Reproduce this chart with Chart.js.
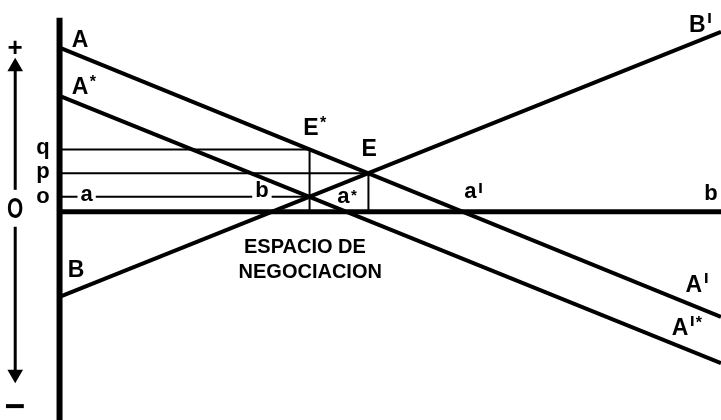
<!DOCTYPE html>
<html>
<head>
<meta charset="utf-8">
<script src="https://cdn.jsdelivr.net/npm/chart.js@4.4.1/dist/chart.umd.min.js"></script>
<style>
html,body{margin:0;padding:0;background:#fff;}
#wrap{width:721px;height:420px;position:relative;}
</style>
</head>
<body>
<div id="wrap"><canvas id="c" width="721" height="420"></canvas></div>
<script>
// ---- data (abstract units: origin where the two axes meet) ----
const lineX = [0, 100];               // horizontal extent of the curves
const curveA = [24.8, -15.9];         // A -> A'
const curveAStar = [17.5, -22.9];     // A* -> A'*
const curveB = [-12.9, 27.2];         // B -> B'
const levels = { q: 9.4, p: 5.8, o: 2.24 };
const pointX = { eStar: 37.8, e: 46.7 };
const axisTop = 29.3, axisBottom = -31.5;
const arrowX = -6.7;
const upArrow = [3.3, 21.4], upTip = 21.9;
const downArrow = [-2.3, -24.3], downTip = -24.6;
const minusX = [-8.1, -5.4], minusY = -29.4;

const labels = [
  {t:'+', x:-6.7, y:23.6, size:26},
  {t:'O', x:-6.7, y:-1.0, size:29, sx:0.72},
  {t:'A', x:3.1, y:24.9},
  {t:'A', sup:['*'], x:3.1, y:17.8},
  {t:'B', x:2.5, y:-9.9},
  {t:'q', x:-2.5, y:8.7, size:22},
  {t:'p', x:-2.5, y:5.1, size:22},
  {t:'o', x:-2.5, y:1.3, size:22},
  {t:'a', x:4.1, y:1.6, bg:true, size:22},
  {t:'b', x:30.6, y:2.2, bg:true, size:22},
  {t:'a', sup:['*'], x:42.9, y:1.3, size:22},
  {t:'E', sup:['*'], x:38.0, y:11.6},
  {t:'E', x:46.8, y:8.4},
  {t:'a', sup:['ı'], x:62.1, y:2.1, size:22, low:true},
  {t:'b', x:98.5, y:1.8, size:22},
  {t:'B', sup:['ı'], x:96.4, y:27.2},
  {t:'A', sup:['ı'], x:95.9, y:-12.2},
  {t:'A', sup:['ı','*'], x:93.8, y:-18.6},
  {t:'ESPACIO DE', x:37.1, y:-6.3, size:20},
  {t:'NEGOCIACION', x:37.9, y:-10.0, size:20}
];

function seg(xs, ys){ return xs.map((x,i)=>({x:x, y:ys[i]})); }

const black = '#000';
function ds(data, width, extra){
  return Object.assign({data:data, showLine:true, borderColor:black, backgroundColor:black,
    borderWidth:width, pointRadius:0, fill:false, tension:0, borderCapStyle:'butt'}, extra||{});
}

const datasets = [
  ds(seg([0,0],[axisTop, axisBottom]), 6),
  ds(seg([lineX[0], lineX[1]],[0,0]), 5),
  ds(seg(lineX, curveA), 4),
  ds(seg(lineX, curveAStar), 4),
  ds(seg(lineX, curveB), 4),
  ds(seg([0, pointX.eStar, pointX.eStar],[levels.q, levels.q, 0]), 2),
  ds(seg([0, pointX.e, pointX.e],[levels.p, levels.p, 0]), 2),
  ds(seg([0, pointX.eStar],[levels.o, levels.o]), 2),
  ds(seg([arrowX, arrowX], upArrow), 3),
  ds(seg([arrowX, arrowX], downArrow), 3),
  ds([{x:arrowX, y:upTip}], 0, {showLine:false, pointRadius:9, pointStyle:'triangle', rotation:0}),
  ds([{x:arrowX, y:downTip}], 0, {showLine:false, pointRadius:9, pointStyle:'triangle', rotation:180}),
  ds(seg(minusX, [minusY, minusY]), 4)
];

const FONT = '"Liberation Sans", Arial, sans-serif';
const labelPlugin = {
  id:'labels',
  afterDatasetsDraw(chart){
    const ctx = chart.ctx, xs = chart.scales.x, ys = chart.scales.y;
    ctx.save();
    labels.forEach(l=>{
      const size = l.size || 23;
      ctx.font = 'bold ' + size + 'px ' + FONT;
      const px = xs.getPixelForValue(l.x), py = ys.getPixelForValue(l.y);
      const w = ctx.measureText(l.t).width * (l.sx||1);
      if (l.bg){
        ctx.fillStyle = '#fff';
        ctx.fillRect(px - w/2 - 3, py - size*0.6, w + 6, size*0.7);
      }
      ctx.fillStyle = black;
      ctx.textBaseline = 'alphabetic';
      ctx.textAlign = 'center';
      ctx.save();
      ctx.translate(px, py);
      ctx.scale(l.sx||1, 1);
      ctx.fillText(l.t, 0, 0);
      ctx.restore();
      if (l.sup){
        let cx = px + w/2 + 1.5;
        const top = l.low || (l.t === l.t.toLowerCase()) ? 0.55*size : 0.72*size;
        ctx.textAlign = 'left';
        l.sup.forEach(s=>{
          if (s === 'ı'){
            const ss = Math.round(size*0.8);
            ctx.font = 'bold ' + ss + 'px ' + FONT;
            ctx.fillText(s, cx, py - top - 2 + 0.53*ss);
            cx += ctx.measureText(s).width + 1;
          } else {
            const ss = Math.round(size*0.7);
            ctx.font = 'bold ' + ss + 'px ' + FONT;
            ctx.fillText(s, cx, py - top + 0.62*ss);
            cx += ctx.measureText(s).width;
          }
        });
      }
    });
    ctx.restore();
  }
};

new Chart(document.getElementById('c'), {
  type:'scatter',
  data:{datasets:datasets},
  options:{
    responsive:false, animation:false,
    layout:{padding:0, autoPadding:false},
    plugins:{legend:{display:false}, tooltip:{enabled:false}},
    scales:{
      x:{type:'linear', min:-9, max:100, display:false},
      y:{type:'linear', min:-31.5, max:32, display:false}
    }
  },
  plugins:[labelPlugin]
});
</script>
</body>
</html>
